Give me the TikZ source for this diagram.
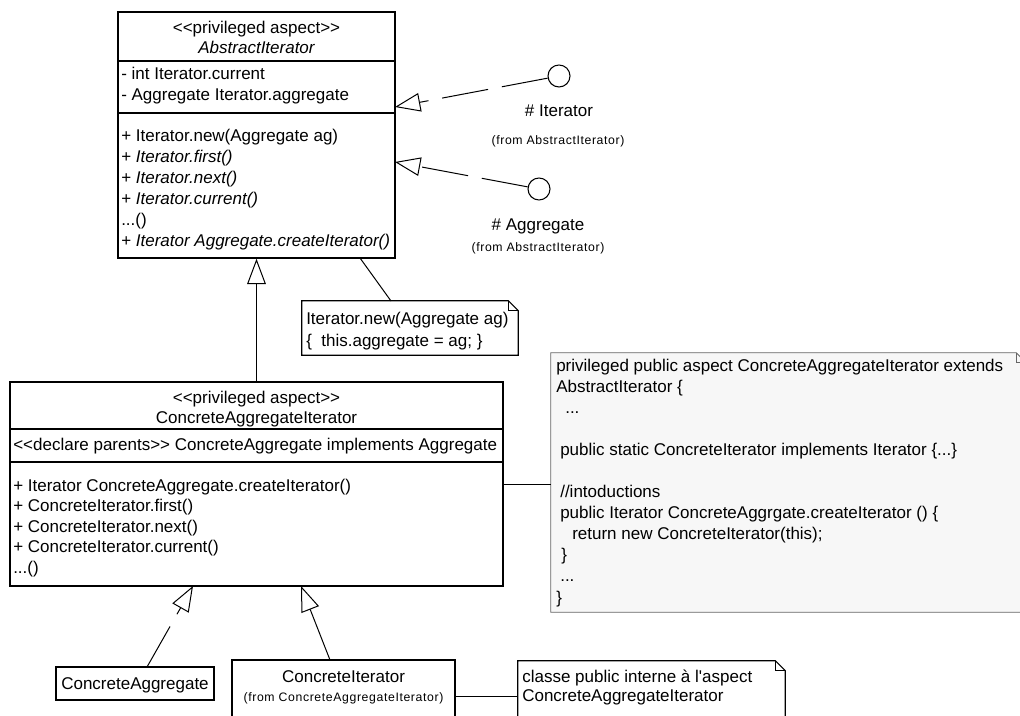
\documentclass[tikz,border=0pt]{standalone}
\usepackage{fontspec}
\setmainfont{Liberation Sans}[Ligatures=TeXOff]
\newfontfamily\smallfam{Liberation Sans}[LetterSpace=5,Ligatures=TeXOff]
\usetikzlibrary{arrows.meta}
\newcommand\mainsz{\fontsize{12.75}{15}\selectfont}
\newcommand\smallsz{\smallfam\fontsize{9.2}{11}\selectfont}
\begin{document}
\begin{tikzpicture}[x=0.75pt,y=-0.75pt,
  box/.style={draw, line width=1.1pt, fill=white, inner sep=0},
  notebox/.style={inner sep=0},
  noteline/.style={line width=0.8pt},
  t/.style={inner sep=0, font=\mainsz},
  ts/.style={inner sep=0, font=\smallsz},
  iface/.style={circle, draw, line width=0.8pt, minimum size=16.5pt, inner sep=0},
  gen/.style={line width=0.75pt, -{Triangle[open,length=19pt,width=14pt]}},
  realz/.style={gen, dash pattern=on 35pt off 10.5pt},
  conn/.style={line width=0.75pt}]
\useasboundingbox (0,0) rectangle (1020,716);
\clip (0,0) rectangle (1020,716);

% ---------- AbstractIterator ----------
\node[box, minimum width=207.75pt, minimum height=184.5pt] (abs) at (256.5,135) {};
\draw[line width=0.8pt] (abs.west |- 0,61) -- (abs.east |- 0,61);
\draw[line width=0.8pt] (abs.west |- 0,113) -- (abs.east |- 0,113);
\node[t, anchor=base] (absSt) at (256.5,34) {<<privileged aspect>>};
\node[t, anchor=base] (absNm) at (256.5,54) {\itshape AbstractIterator};
\node[t, anchor=base west] (absA1) at (121,80) {- int Iterator.current};
\node[t, anchor=base west] (absA2) at (121,101) {- Aggregate Iterator.aggregate};
\node[t, anchor=base west] (absM1) at (121,142) {+ Iterator.new(Aggregate ag)};
\node[t, anchor=base west] (absM2) at (121,163) {+ \textit{Iterator.first()}};
\node[t, anchor=base west] (absM3) at (121,184) {+ \textit{Iterator.next()}};
\node[t, anchor=base west] (absM4) at (121,205) {+ \textit{Iterator.current()}};
\node[t, anchor=base west] (absM5) at (121,226) {...()};
\node[t, anchor=base west] (absM6) at (121,247) {+ \textit{Iterator Aggregate.createIterator()}};

% ---------- interfaces ----------
\node[iface] (itc) at (559,76) {};
\node[t, anchor=base] (itLbl) at (559,117) {\# Iterator};
\node[ts, anchor=base] (itFrom) at (558,145) {(from AbstractIterator)};
\node[iface] (agc) at (539,189) {};
\node[t, anchor=base] (agLbl) at (538,231) {\# Aggregate};
\node[ts, anchor=base] (agFrom) at (538,252) {(from AbstractIterator)};
\coordinate (itTip) at (395,107);
\coordinate (agTip) at (395,162);
\draw[realz] (itc) -- (itTip);
\draw[realz] (agc) -- (agTip);

% ---------- note 1 ----------
\node[notebox, minimum width=162pt, minimum height=40.5pt] (n1) at (410,328) {};
\draw[noteline, fill=white] (n1.north west) -- ([xshift=-7.5pt]n1.north east) -- ([yshift=-7.5pt]n1.north east) -- (n1.south east) -- (n1.south west) -- cycle;
\draw[noteline] ([xshift=-7.5pt]n1.north east) -- ([xshift=-7.5pt,yshift=-7.5pt]n1.north east) -- ([yshift=-7.5pt]n1.north east);
\node[t, anchor=base west] (n1L1) at (306,325) {Iterator.new(Aggregate ag)};
\node[t, anchor=base west] (n1L2) at (306,346) {\{\ \ this.aggregate = ag; \}};
\coordinate (n1From) at (360,258);
\coordinate (n1To) at (391,301);
\draw[conn] (n1From) -- (n1To);

% ---------- ConcreteAggregateIterator ----------
\node[box, minimum width=369.75pt, minimum height=153pt] (cai) at (256.5,484) {};
\draw[line width=0.8pt] (cai.west |- 0,429) -- (cai.east |- 0,429);
\draw[line width=0.8pt] (cai.west |- 0,462) -- (cai.east |- 0,462);
\node[t, anchor=base] (caiSt) at (256.5,403) {<<privileged aspect>>};
\node[t, anchor=base] (caiNm) at (256.5,423) {ConcreteAggregateIterator};
\node[t, anchor=base west] (caiA1) at (13,450) {<<declare parents>> ConcreteAggregate implements Aggregate};
\node[t, anchor=base west] (caiM1) at (13,491) {+ Iterator ConcreteAggregate.createIterator()};
\node[t, anchor=base west] (caiM2) at (13,511) {+ ConcreteIterator.first()};
\node[t, anchor=base west] (caiM3) at (13,532) {+ ConcreteIterator.next()};
\node[t, anchor=base west] (caiM4) at (13,552) {+ ConcreteIterator.current()};
\node[t, anchor=base west] (caiM5) at (13,573) {...()};
\draw[gen] (cai.north) -- (abs.south);

% ---------- big note ----------
\node[notebox, minimum width=356.25pt, minimum height=194.25pt] (bn) at (788.5,482.5) {};
\draw[line width=0.7pt, draw=black!60, fill=black!3] (bn.north west) -- ([xshift=-7.5pt]bn.north east) -- ([yshift=-7.5pt]bn.north east) -- (bn.south east) -- (bn.south west) -- cycle;
\draw[line width=0.7pt, draw=black!60] ([xshift=-7.5pt]bn.north east) -- ([xshift=-7.5pt,yshift=-7.5pt]bn.north east) -- ([yshift=-7.5pt]bn.north east);
\node[t, anchor=base west] (bn1) at (556,371) {privileged public aspect ConcreteAggregateIterator extends};
\node[t, anchor=base west] (bn2) at (556,392) {AbstractIterator \{};
\node[t, anchor=base west] (bn3) at (565,413) {...};
\node[t, anchor=base west] (bn4) at (560,455) {public static ConcreteIterator implements Iterator \{...\}};
\node[t, anchor=base west] (bn5) at (560,497) {//intoductions};
\node[t, anchor=base west] (bn6) at (560,518) {public Iterator ConcreteAggrgate.createIterator () \{};
\node[t, anchor=base west] (bn7) at (572,539) {return new ConcreteIterator(this);};
\node[t, anchor=base west] (bn8) at (561,560) {\}};
\node[t, anchor=base west] (bn9) at (560,581) {...};
\node[t, anchor=base west] (bn10) at (556,603) {\}};
\draw[conn] (cai.east) -- (cai.east -| bn.west);

% ---------- bottom classes ----------
\node[box, minimum width=118.5pt, minimum height=24.75pt] (ca) at (135,683.5) {};
\node[t, anchor=base] (caNm) at (135,689) {ConcreteAggregate};
\node[box, minimum width=167.25pt, minimum height=60pt] (ci) at (343.5,700) {};
\node[t, anchor=base] (ciNm) at (343.5,682) {ConcreteIterator};
\node[ts, anchor=base] (ciFrom) at (343.5,701) {(from ConcreteAggregateIterator)};
\coordinate (caTop) at (147,667);
\coordinate (caiTipA) at (193,586);
\coordinate (ciTop) at (330,660);
\coordinate (caiTipB) at (301,586);
\draw[realz] (caTop) -- (caiTipA);
\draw[gen] (ciTop) -- (caiTipB);

% ---------- bottom note ----------
\node[notebox, minimum width=200.25pt, minimum height=59.25pt] (n3) at (651.5,700.5) {};
\draw[noteline, fill=white] (n3.north west) -- ([xshift=-7.5pt]n3.north east) -- ([yshift=-7.5pt]n3.north east) -- (n3.south east) -- (n3.south west) -- cycle;
\draw[noteline] ([xshift=-7.5pt]n3.north east) -- ([xshift=-7.5pt,yshift=-7.5pt]n3.north east) -- ([yshift=-7.5pt]n3.north east);
\node[t, anchor=base west] (n3L1) at (522,682) {classe public interne à l'aspect};
\node[t, anchor=base west] (n3L2) at (522,701) {ConcreteAggregateIterator};
\coordinate (ciR) at (455,696);
\coordinate (n3L) at (518,696);
\draw[conn] (ciR) -- (n3L);
\end{tikzpicture}
\end{document}
